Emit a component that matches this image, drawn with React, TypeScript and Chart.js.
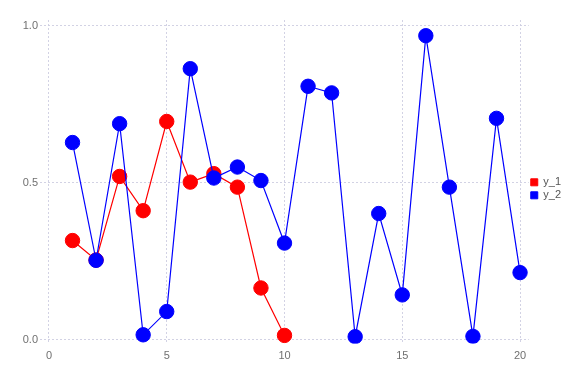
import React, { useEffect, useRef } from "react";
import { Chart, registerables } from "chart.js";

Chart.register(...registerables);

const xValues1 = [1, 2, 3, 4, 5, 6, 7, 8, 9, 10];
const y1Values = [0.316, 0.254, 0.52, 0.411, 0.695, 0.502, 0.529, 0.486, 0.165, 0.014];
const xValues2 = [1, 2, 3, 4, 5, 6, 7, 8, 9, 10, 11, 12, 13, 14, 15, 16, 17, 18, 19, 20];
const y2Values = [0.628, 0.253, 0.688, 0.016, 0.09, 0.863, 0.515, 0.55, 0.507, 0.308, 0.807, 0.786, 0.01, 0.402, 0.143, 0.968, 0.486, 0.011, 0.705, 0.214];
const xTicks = [0, 5, 10, 15, 20];
const yTicks = [0, 0.5, 1.0];
const seriesNames = ["y_1", "y_2"];

export default function App() {
  const ref = useRef<HTMLCanvasElement | null>(null);
  useEffect(() => {
    document.body.style.margin = "0";
    const canvas = ref.current;
    if (!canvas) return;
    const gridColor = "rgba(205,205,225,0.9)";
    const font = { family: "'Liberation Sans', Arial, sans-serif", size: 11 };
    const chart = new Chart(canvas, {
      type: "line",
      data: {
        datasets: [
          {
            label: seriesNames[0],
            data: xValues1.map((x, i) => ({ x, y: y1Values[i] })),
            borderColor: "#ff0000",
            backgroundColor: "#ff0000",
            pointBackgroundColor: "#ff0000",
            pointBorderColor: "#ff0000",
            borderWidth: 1.2,
            pointRadius: 7.2,
            pointBorderWidth: 1,
            pointStyle: "circle",
            tension: 0,
            order: 1,
          },
          {
            label: seriesNames[1],
            data: xValues2.map((x, i) => ({ x, y: y2Values[i] })),
            borderColor: "#0000ff",
            backgroundColor: "#0000ff",
            pointBackgroundColor: "#0000ff",
            pointBorderColor: "#0000ff",
            borderWidth: 1.2,
            pointRadius: 7.2,
            pointBorderWidth: 1,
            pointStyle: "circle",
            tension: 0,
            order: 0,
          },
        ],
      },
      options: {
        animation: false,
        responsive: false,
        maintainAspectRatio: false,
        layout: { padding: { top: 20, left: 0, right: 5, bottom: 0 } },
        scales: {
          x: {
            type: "linear",
            min: -0.38,
            max: 20.37,
            afterBuildTicks: (s: any) => {
              s.ticks = xTicks.map((v) => ({ value: v }));
            },
            afterFit: (s: any) => {
              s.height = 40.4;
            },
            border: { display: false, dash: [2, 2] },
            grid: { color: gridColor, drawTicks: false, lineWidth: 1 },
            ticks: {
              color: "#707070",
              font,
              padding: 6,
              maxRotation: 0,
              callback: (v: any) => String(v),
            },
          },
          y: {
            type: "linear",
            min: -0.012,
            max: 1.018,
            afterBuildTicks: (s: any) => {
              s.ticks = yTicks.map((v) => ({ value: v }));
            },
            afterFit: (s: any) => {
              s.width = 40;
            },
            border: { display: false, dash: [2, 2] },
            grid: { color: gridColor, drawTicks: false, lineWidth: 1 },
            ticks: {
              color: "#707070",
              font,
              padding: 2,
              callback: (v: any) => Number(v).toFixed(1),
            },
          },
        },
        plugins: {
          legend: {
            position: "right",
            fullSize: false,
            labels: {
              usePointStyle: true,
              pointStyle: "rect",
              boxWidth: 7,
              boxHeight: 7,
              color: "#555",
              font: { ...font, lineHeight: 1 },
              padding: 2,
              sort: (a: any, b: any) => a.datasetIndex - b.datasetIndex,
            },
          },
          tooltip: { enabled: false },
        },
      },
      plugins: [
        {
          id: "legendShift",
          afterLayout: (c: any) => {
            if (c.legend) {
              c.legend.top += 7;
              c.legend.bottom += 7;
            }
          },
        },
      ],
    } as any);
    return () => chart.destroy();
  }, []);
  return (
    <div style={{ width: 576, height: 384 }}>
      <canvas ref={ref} width={576} height={384} style={{ width: 576, height: 384 }} />
    </div>
  );
}
